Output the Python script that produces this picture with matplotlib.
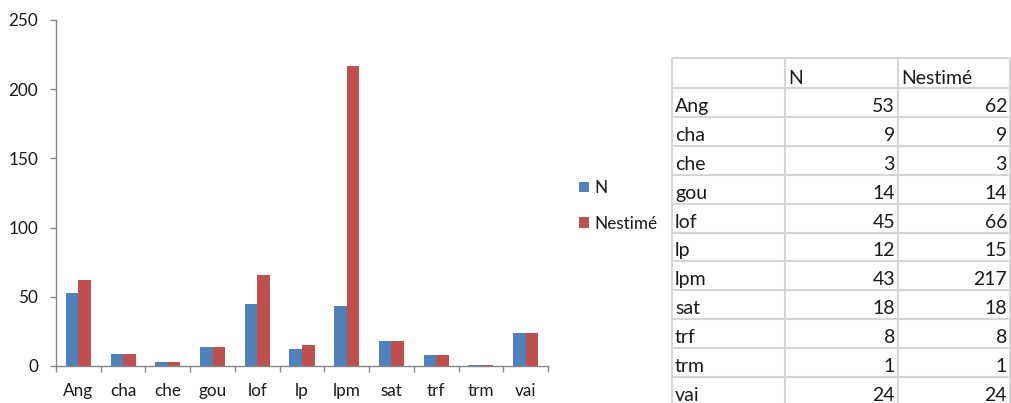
import matplotlib
matplotlib.use("Agg")
import matplotlib.pyplot as plt
import numpy as np

categories = ["Ang", "cha", "che", "gou", "lof", "lp", "lpm", "sat", "trf", "trm", "vai"]
n_values = [53, 9, 3, 14, 45, 12, 43, 18, 8, 1, 24]
nestime_values = [62, 9, 3, 14, 66, 15, 217, 18, 8, 1, 24]
series_names = ["N", "Nestimé"]
y_ticks = [0, 50, 100, 150, 200, 250]

BLUE = "#4F81BD"
RED = "#C0504D"
AXIS = "#868686"
GRID = "#D6D6D6"
TEXT = "#1a1a1a"

plt.rcParams["font.family"] = ["Lato", "DejaVu Sans"]

W, H = 1011, 403
fig = plt.figure(figsize=(W / 100, H / 100), dpi=100)
fig.patch.set_facecolor("white")

def px_axes(x0, y0, x1, y1):
    return [x0 / W, 1 - y1 / H, (x1 - x0) / W, (y1 - y0) / H]

# ---- clustered column chart ----
fs_chart = 12.3
ax = fig.add_axes(px_axes(56, 20, 548, 366))
x = np.arange(len(categories))
bw = 0.28
ax.bar(x - bw / 2, n_values, width=bw, color=BLUE, label=series_names[0])
ax.bar(x + bw / 2, nestime_values, width=bw, color=RED, label=series_names[1])

ax.set_xlim(-0.5, len(categories) - 0.5)
ax.set_ylim(0, 250)
ax.set_yticks(y_ticks)
ax.set_yticklabels([str(v) for v in y_ticks])
ax.set_xticks(x)
ax.set_xticklabels(categories)
ax.set_xticks(np.arange(-0.5, len(categories)), minor=True)

for side in ("top", "right"):
    ax.spines[side].set_visible(False)
for side in ("left", "bottom"):
    ax.spines[side].set_color(AXIS)
    ax.spines[side].set_linewidth(1.0)

ax.tick_params(axis="y", direction="out", length=4.3, width=1.0, color=AXIS,
               labelsize=fs_chart, labelcolor=TEXT, pad=8.5)
ax.tick_params(axis="x", which="major", length=0, labelsize=fs_chart,
               labelcolor=TEXT, pad=12.5)
ax.tick_params(axis="x", which="minor", direction="out", length=4.3,
               width=1.0, color=AXIS)

leg = ax.legend(loc="upper left", bbox_to_anchor=(579 / W, 1 - 180 / H),
                bbox_transform=fig.transFigure, frameon=False,
                fontsize=fs_chart, handlelength=0.6, handleheight=0.6,
                handletextpad=0.3, labelspacing=1.15, borderpad=0,
                borderaxespad=0)
for t in leg.get_texts():
    t.set_color(TEXT)

# ---- data table ----
tab = fig.add_axes([0, 0, 1, 1])
tab.set_xlim(0, W)
tab.set_ylim(H, 0)
tab.axis("off")

col_edges = [672, 785, 898, 1010]
row_top = 58
header_h = 30
row_h = 28.9
row_edges = [row_top, row_top + header_h] + [
    row_top + header_h + row_h * (k + 1) for k in range(len(categories))]

for yy in row_edges:
    tab.plot([col_edges[0], col_edges[-1]], [yy, yy], color=GRID, lw=1.5,
             solid_capstyle="butt", clip_on=False)
for xx in col_edges:
    tab.plot([xx, xx], [row_top, H + 5], color=GRID, lw=1.5,
             solid_capstyle="butt", clip_on=False)

fs_tab = 14
base_off = 5
# header
tab.text(col_edges[1] + 3.5, row_edges[1] - base_off + 1, series_names[0],
         fontsize=fs_tab, color=TEXT, ha="left", va="baseline")
tab.text(col_edges[2] + 3.5, row_edges[1] - base_off + 1, series_names[1],
         fontsize=fs_tab, color=TEXT, ha="left", va="baseline")
for i, cat in enumerate(categories):
    yb = row_edges[i + 2] - base_off
    tab.text(col_edges[0] + 3, yb, cat, fontsize=fs_tab, color=TEXT,
             ha="left", va="baseline")
    tab.text(col_edges[2] - 3, yb, str(n_values[i]), fontsize=fs_tab,
             color=TEXT, ha="right", va="baseline")
    tab.text(col_edges[3] - 3, yb, str(nestime_values[i]), fontsize=fs_tab,
             color=TEXT, ha="right", va="baseline")

fig.savefig("out.png", dpi=100, facecolor="white")
